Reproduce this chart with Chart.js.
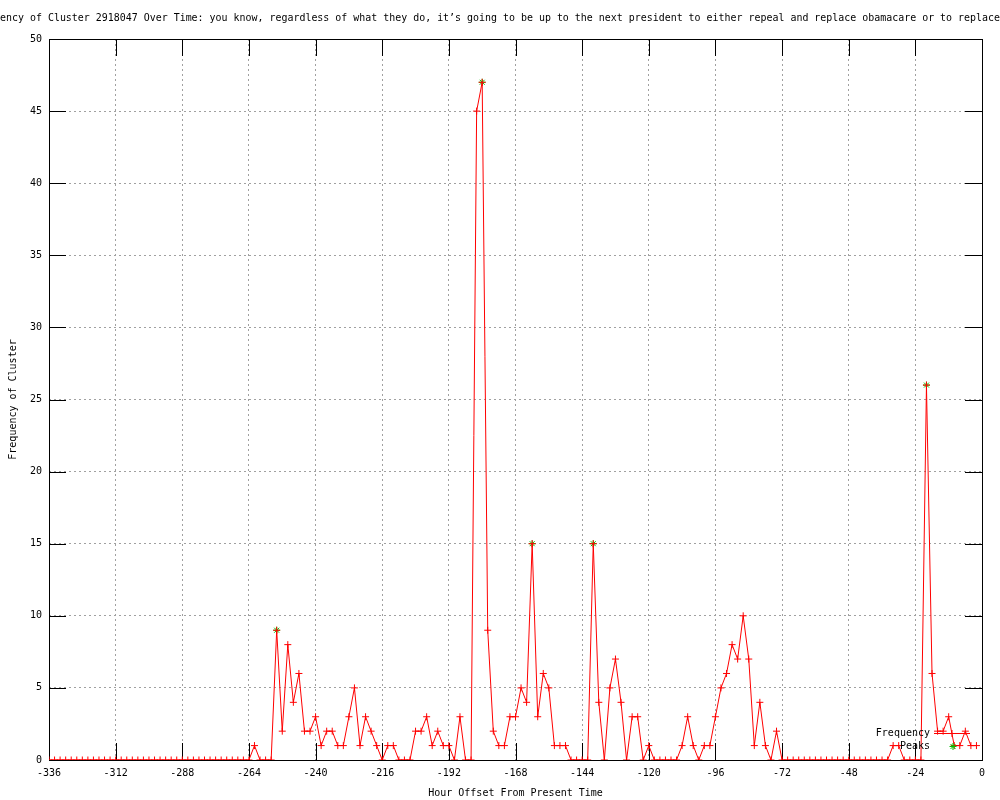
<!DOCTYPE html>
<html>
<head>
<meta charset="utf-8">
<script src="https://cdn.jsdelivr.net/npm/chart.js@4.4.1/dist/chart.umd.min.js"></script>
<style>
  body { margin: 0; background: #fff; }
  #wrap { width: 1000px; height: 800px; }
</style>
</head>
<body>
<div id="wrap"><canvas id="grafico" width="1000" height="800"></canvas></div>
<script>
// horas (offset do presente), uma medida a cada 2 horas
const horas = [
  -336, -334, -332, -330, -328, -326, -324, -322, -320, -318, -316, -314,
  -312, -310, -308, -306, -304, -302, -300, -298, -296, -294, -292, -290,
  -288, -286, -284, -282, -280, -278, -276, -274, -272, -270, -268, -266,
  -264, -262, -260, -258, -256, -254, -252, -250, -248, -246, -244, -242,
  -240, -238, -236, -234, -232, -230, -228, -226, -224, -222, -220, -218,
  -216, -214, -212, -210, -208, -206, -204, -202, -200, -198, -196, -194,
  -192, -190, -188, -186, -184, -182, -180, -178, -176, -174, -172, -170,
  -168, -166, -164, -162, -160, -158, -156, -154, -152, -150, -148, -146,
  -144, -142, -140, -138, -136, -134, -132, -130, -128, -126, -124, -122,
  -120, -118, -116, -114, -112, -110, -108, -106, -104, -102, -100, -98,
  -96, -94, -92, -90, -88, -86, -84, -82, -80, -78, -76, -74,
  -72, -70, -68, -66, -64, -62, -60, -58, -56, -54, -52, -50,
  -48, -46, -44, -42, -40, -38, -36, -34, -32, -30, -28, -26,
  -24, -22, -20, -18, -16, -14, -12, -10, -8, -6, -4, -2
];

const frequencia = [
  0, 0, 0, 0, 0, 0, 0, 0, 0, 0, 0, 0,
  0, 0, 0, 0, 0, 0, 0, 0, 0, 0, 0, 0,
  0, 0, 0, 0, 0, 0, 0, 0, 0, 0, 0, 0,
  0, 1, 0, 0, 0, 9, 2, 8, 4, 6, 2, 2,
  3, 1, 2, 2, 1, 1, 3, 5, 1, 3, 2, 1,
  0, 1, 1, 0, 0, 0, 2, 2, 3, 1, 2, 1,
  1, 0, 3, 0, 0, 45, 47, 9, 2, 1, 1, 3,
  3, 5, 4, 15, 3, 6, 5, 1, 1, 1, 0, 0,
  0, 0, 15, 4, 0, 5, 7, 4, 0, 3, 3, 0,
  1, 0, 0, 0, 0, 0, 1, 3, 1, 0, 1, 1,
  3, 5, 6, 8, 7, 10, 7, 1, 4, 1, 0, 2,
  0, 0, 0, 0, 0, 0, 0, 0, 0, 0, 0, 0,
  0, 0, 0, 0, 0, 0, 0, 0, 1, 1, 0, 0,
  0, 0, 26, 6, 2, 2, 3, 1, 1, 2, 1, 1
];

const picosHoras = [-254, -180, -162, -140, -20];
const picosValores = [9, 47, 15, 15, 26];

const titulo = "ency of Cluster 2918047 Over Time: you know, regardless of what they do, it\u2019s going to be up to the next president to either repeal and replace obamacare or to replace";

const fonte = { family: "'DejaVu Sans Mono', monospace", size: 10, weight: "normal" };
const vermelho = "#ff0000";
const verde = "#00c000";

let pontosFreq = [];
for (let i = 0; i < horas.length; i++) {
  pontosFreq.push({ x: horas[i], y: frequencia[i] });
}
let pontosPicos = [];
for (let i = 0; i < picosHoras.length; i++) {
  pontosPicos.push({ x: picosHoras[i], y: picosValores[i] });
}

// borda e marcas para dentro (estilo gnuplot)
const moldura = {
  id: "moldura",
  beforeDatasetsDraw(chart) {
    const { ctx, chartArea: a, scales } = chart;
    const tam = 17;
    ctx.save();
    ctx.strokeStyle = "#000";
    ctx.lineWidth = 1;
    ctx.beginPath();
    scales.x.ticks.forEach((t) => {
      const px = Math.round(scales.x.getPixelForValue(t.value)) + 0.5;
      ctx.moveTo(px, a.bottom);
      ctx.lineTo(px, a.bottom - tam);
      ctx.moveTo(px, a.top);
      ctx.lineTo(px, a.top + tam);
    });
    scales.y.ticks.forEach((t) => {
      const py = Math.round(scales.y.getPixelForValue(t.value)) + 0.5;
      ctx.moveTo(a.left, py);
      ctx.lineTo(a.left + tam, py);
      ctx.moveTo(a.right, py);
      ctx.lineTo(a.right - tam, py);
    });
    ctx.stroke();
    ctx.strokeRect(Math.round(a.left) + 0.5, Math.round(a.top) + 0.5,
      Math.round(a.right - a.left), Math.round(a.bottom - a.top));
    ctx.restore();
  }
};

// legenda no canto inferior direito
const legenda = {
  id: "legenda",
  afterDatasetsDraw(chart) {
    const ctx = chart.ctx;
    const xTexto = 930;
    const y1 = 733;
    const y2 = 746;
    const xMarca = 952;
    ctx.save();
    ctx.font = "10px 'DejaVu Sans Mono', monospace";
    ctx.fillStyle = "#000";
    ctx.textAlign = "right";
    ctx.textBaseline = "middle";
    ctx.fillText("Frequency", xTexto, y1);
    ctx.fillText("Peaks", xTexto, y2);
    ctx.strokeStyle = vermelho;
    ctx.lineWidth = 1;
    ctx.beginPath();
    ctx.moveTo(934, y1 + 0.5);
    ctx.lineTo(970, y1 + 0.5);
    ctx.stroke();
    Chart.helpers.drawPoint(ctx, { pointStyle: "cross", radius: 3.5, rotation: 0, borderWidth: 1 }, xMarca, y1 + 0.5);
    ctx.strokeStyle = verde;
    Chart.helpers.drawPoint(ctx, { pointStyle: "star", radius: 3.5, rotation: 0, borderWidth: 1 }, xMarca + 1, y2 + 0.5);
    ctx.restore();
  }
};

const config = {
  type: "line",
  data: {
    datasets: [
      {
        label: "Frequency",
        data: pontosFreq,
        borderColor: vermelho,
        backgroundColor: vermelho,
        borderWidth: 1,
        pointStyle: "cross",
        pointRadius: 3.5,
        pointBorderWidth: 1,
        pointBorderColor: vermelho,
        fill: false,
        tension: 0,
      },
      {
        label: "Peaks",
        data: pontosPicos,
        showLine: false,
        borderColor: verde,
        backgroundColor: verde,
        pointStyle: "star",
        pointRadius: 3.5,
        pointBorderWidth: 1,
        pointBorderColor: verde,
      },
    ],
  },
  options: {
    responsive: false,
    animation: false,
    layout: { padding: 0 },
    plugins: {
      legend: { display: false },
      tooltip: { enabled: false },
      title: {
        display: true,
        text: titulo,
        color: "#000",
        font: fonte,
        padding: { top: 12, bottom: 15 },
      },
    },
    scales: {
      x: {
        type: "linear",
        min: -336,
        max: 0,
        ticks: {
          stepSize: 24,
          autoSkip: false,
          maxRotation: 0,
          padding: 7,
          color: "#000",
          font: fonte,
          callback: (v) => String(v),
        },
        grid: {
          color: "#a0a0a0",
          drawTicks: false,
        },
        border: { display: false, dash: [2, 3] },
        title: {
          display: true,
          text: "Hour Offset From Present Time",
          color: "#000",
          font: fonte,
          padding: { top: 0, bottom: 1 },
        },
        afterFit: (scale) => { scale.height = 40; },
      },
      y: {
        min: 0,
        max: 50,
        ticks: {
          stepSize: 5,
          padding: 7,
          color: "#000",
          font: fonte,
        },
        grid: {
          color: "#a0a0a0",
          drawTicks: false,
        },
        border: { display: false, dash: [2, 3] },
        title: {
          display: true,
          text: "Frequency of Cluster",
          color: "#000",
          font: fonte,
          padding: { top: 7, bottom: 0 },
        },
        afterFit: (scale) => { scale.width = 49; },
      },
      // eixo vazio so para a margem direita
      margemDireita: {
        position: "right",
        min: 0,
        max: 50,
        ticks: { display: false },
        grid: { display: false, drawTicks: false },
        border: { display: false },
        afterFit: (scale) => { scale.width = 18; },
      },
    },
  },
  plugins: [moldura, legenda],
};

let meuGrafico = new Chart(document.getElementById("grafico"), config);
</script>
</body>
</html>
